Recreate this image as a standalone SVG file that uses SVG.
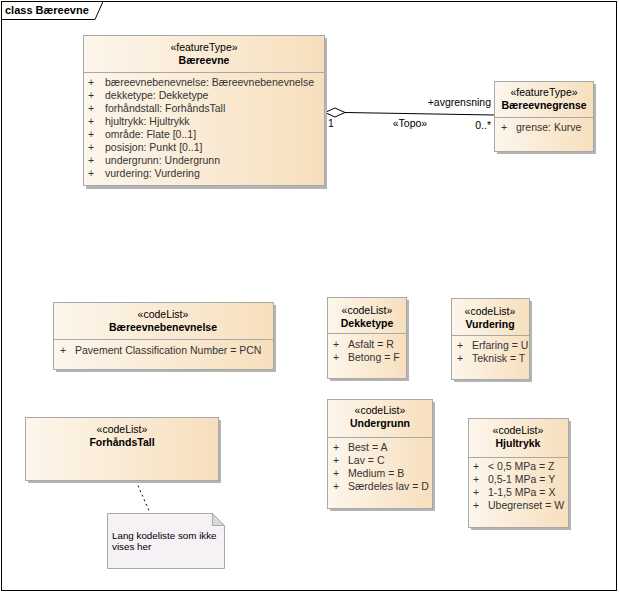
<svg xmlns="http://www.w3.org/2000/svg" width="619" height="593" viewBox="0 0 619 593">
<defs>
<linearGradient id="g" x1="0" y1="0" x2="1" y2="0">
<stop offset="0" stop-color="#fdf6ec"/>
<stop offset="1" stop-color="#f7dfbd"/>
</linearGradient>
<style>
text{font-family:"Liberation Sans",Arial,sans-serif;font-size:10.5px;fill:#333}
.st{text-anchor:middle;fill:#000}
.nm{text-anchor:middle;font-weight:bold;fill:#000}
.box{fill:url(#g);stroke:#a8a8a8;stroke-width:1}
.sh{fill:#b4b4b4}
.sep{stroke:#a8a8a8;stroke-width:1}
.lbl{fill:#000}
.nt{fill:#000;font-size:9.8px}
</style>
</defs>
<rect width="619" height="593" fill="#fff"/>
<g id="frame">
<rect x="1.5" y="1.5" width="615" height="589" fill="none" stroke="#000"/>
<path d="M1.5 19.5 H95 L103 1.5" fill="none" stroke="#000"/>
<text x="5" y="14" class="lbl" style="font-weight:bold;font-size:11px">class Bæreevne</text>
</g>
<g id="connectors">
<path d="M345 112.5 L494 115" stroke="#000" fill="none"/>
<path d="M325 112.5 L335 108 L345 112.5 L335 117 Z" fill="#fff" stroke="#000"/>
<text x="491" y="106" class="lbl" text-anchor="end">+avgrensning</text>
<text x="328" y="127" class="lbl">1</text>
<text x="410" y="127" class="lbl" text-anchor="middle">«Topo»</text>
<text x="491" y="129" class="lbl" text-anchor="end">0..*</text>
<path d="M136 481 L150 513" stroke="#000" stroke-dasharray="2,3" fill="none"/>
</g>
<g id="Baereevne">
<rect class="sh" x="86" y="38" width="241" height="151"/>
<rect class="box" x="83.5" y="35.5" width="241" height="150"/>
<line class="sep" x1="83.5" y1="72.5" x2="324.5" y2="72.5"/>
<text class="st" x="204" y="51">«featureType»</text>
<text class="nm" x="204" y="64">Bæreevne</text>
<g>
<text x="88" y="86">+</text><text x="105" y="86">bæreevnebenevnelse: Bæreevnebenevnelse</text>
<text x="88" y="99">+</text><text x="105" y="99">dekketype: Dekketype</text>
<text x="88" y="112">+</text><text x="105" y="112">forhåndstall: ForhåndsTall</text>
<text x="88" y="125">+</text><text x="105" y="125">hjultrykk: Hjultrykk</text>
<text x="88" y="138">+</text><text x="105" y="138">område: Flate [0..1]</text>
<text x="88" y="151">+</text><text x="105" y="151">posisjon: Punkt [0..1]</text>
<text x="88" y="164">+</text><text x="105" y="164">undergrunn: Undergrunn</text>
<text x="88" y="177">+</text><text x="105" y="177">vurdering: Vurdering</text>
</g>
</g>
<g id="Baereevnegrense">
<rect class="sh" x="497" y="84" width="99" height="70"/>
<rect class="box" x="494.5" y="81.5" width="99" height="70"/>
<line class="sep" x1="494.5" y1="117.5" x2="593.5" y2="117.5"/>
<text class="st" x="544" y="96">«featureType»</text>
<text class="nm" x="544" y="109">Bæreevnegrense</text>
<text x="501" y="131">+</text><text x="516" y="131">grense: Kurve</text>
</g>
<g id="Baereevnebenevnelse">
<rect class="sh" x="56" y="305" width="220" height="67"/>
<rect class="box" x="53.5" y="302.5" width="220" height="67"/>
<line class="sep" x1="53.5" y1="339.5" x2="273.5" y2="339.5"/>
<text class="st" x="163" y="318">«codeList»</text>
<text class="nm" x="163" y="331">Bæreevnebenevnelse</text>
<text x="60" y="354">+</text><text x="75" y="354">Pavement Classification Number = PCN</text>
</g>
<g id="Dekketype">
<rect class="sh" x="330" y="300" width="79" height="81"/>
<rect class="box" x="327.5" y="297.5" width="79" height="81"/>
<line class="sep" x1="327.5" y1="333.5" x2="406.5" y2="333.5"/>
<text class="st" x="367" y="314">«codeList»</text>
<text class="nm" x="367" y="327">Dekketype</text>
<text x="333" y="348">+</text><text x="348" y="348">Asfalt = R</text>
<text x="333" y="361">+</text><text x="348" y="361">Betong = F</text>
</g>
<g id="Vurdering">
<rect class="sh" x="454" y="301" width="78" height="81"/>
<rect class="box" x="451.5" y="298.5" width="78" height="81"/>
<line class="sep" x1="451.5" y1="335.5" x2="529.5" y2="335.5"/>
<text class="st" x="490" y="315">«codeList»</text>
<text class="nm" x="490" y="328">Vurdering</text>
<text x="457" y="349">+</text><text x="472" y="349">Erfaring = U</text>
<text x="457" y="362">+</text><text x="472" y="362">Teknisk = T</text>
</g>
<g id="ForhandsTall">
<rect class="sh" x="28" y="420" width="193" height="63"/>
<rect class="box" x="25.5" y="417.5" width="193" height="63"/>
<text class="st" x="122" y="433">«codeList»</text>
<text class="nm" x="122" y="446">ForhåndsTall</text>
</g>
<g id="note">
<path d="M107.5 513.5 H212.5 L224.5 525.5 V568.5 H107.5 Z" fill="#f5f1f5" stroke="#a8a8a8"/>
<path d="M212.5 513.5 V525.5 H224.5 Z" fill="#d8d8d8" stroke="#a8a8a8"/>
<text x="112" y="539" class="nt">Lang kodeliste som ikke</text>
<text x="112" y="550" class="nt">vises her</text>
</g>
<g id="Undergrunn">
<rect class="sh" x="330" y="402" width="105" height="109"/>
<rect class="box" x="327.5" y="399.5" width="105" height="109"/>
<line class="sep" x1="327.5" y1="437.5" x2="432.5" y2="437.5"/>
<text class="st" x="380" y="414">«codeList»</text>
<text class="nm" x="380" y="427">Undergrunn</text>
<text x="333" y="451">+</text><text x="348" y="451">Best = A</text>
<text x="333" y="464">+</text><text x="348" y="464">Lav = C</text>
<text x="333" y="477">+</text><text x="348" y="477">Medium = B</text>
<text x="333" y="490">+</text><text x="348" y="490">Særdeles lav = D</text>
</g>
<g id="Hjultrykk">
<rect class="sh" x="471" y="421" width="100" height="109"/>
<rect class="box" x="468.5" y="418.5" width="100" height="109"/>
<line class="sep" x1="468.5" y1="457.5" x2="568.5" y2="457.5"/>
<text class="st" x="518" y="434">«codeList»</text>
<text class="nm" x="518" y="447">Hjultrykk</text>
<text x="473" y="470">+</text><text x="488" y="470">&lt; 0,5 MPa = Z</text>
<text x="473" y="483">+</text><text x="488" y="483">0,5-1 MPa = Y</text>
<text x="473" y="496">+</text><text x="488" y="496">1-1,5 MPa = X</text>
<text x="473" y="509">+</text><text x="488" y="509">Ubegrenset = W</text>
</g>
</svg>
